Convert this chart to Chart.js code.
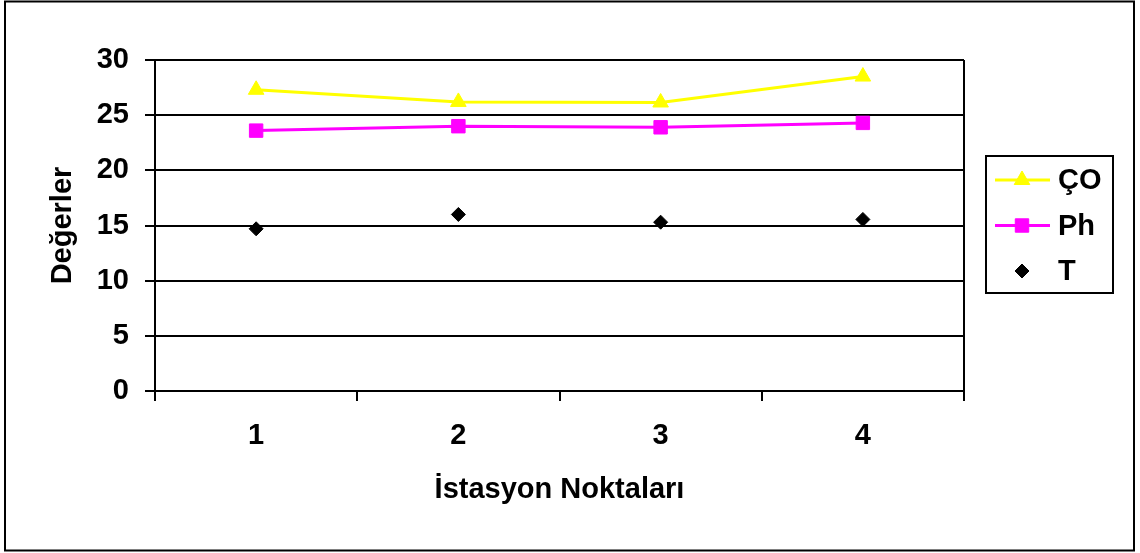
<!DOCTYPE html>
<html>
<head>
<meta charset="utf-8">
<script src="https://cdn.jsdelivr.net/npm/chart.js@4.4.1/dist/chart.umd.min.js"></script>
<style>
  html, body { margin: 0; padding: 0; background: #fff; }
  #wrap { width: 1140px; height: 553px; }
</style>
</head>
<body>
<div id="wrap"><canvas id="chart" width="1140" height="553"></canvas></div>
<script>
const stations = ["1", "2", "3", "4"];
const coValues = [27.3, 26.2, 26.15, 28.5];
const phValues = [23.6, 24.0, 23.9, 24.3];
const tValues = [14.7, 16.0, 15.3, 15.55];
const seriesNames = ["ÇO", "Ph", "T"];

const FONT = "'Liberation Sans', Arial, sans-serif";

// outer frame, plot box and the excel-style legend (line + marker)
const excelFrame = {
  id: "excelFrame",
  beforeDraw(chart) {
    const ctx = chart.ctx;
    ctx.save();
    ctx.fillStyle = "#fff";
    ctx.fillRect(0, 0, chart.width, chart.height);
    ctx.strokeStyle = "#000";
    ctx.lineWidth = 2;
    ctx.strokeRect(5, 1.5, 1129, 549);
    ctx.restore();
  },
  afterDraw(chart) {
    const ctx = chart.ctx;
    const a = chart.chartArea;
    ctx.save();
    ctx.strokeStyle = "#000";
    ctx.lineWidth = 2;
    ctx.beginPath();
    ctx.moveTo(a.right, a.top);
    ctx.lineTo(a.right, a.bottom);
    ctx.stroke();

    // legend
    ctx.strokeRect(986, 156, 127, 137);
    chart.data.datasets.forEach((ds, i) => {
      const y = 180 + i * 45.5;
      if (ds.showLine !== false) {
        ctx.strokeStyle = ds.borderColor;
        ctx.lineWidth = ds.borderWidth;
        ctx.beginPath();
        ctx.moveTo(995, y);
        ctx.lineTo(1050, y);
        ctx.stroke();
      }
      ctx.fillStyle = ds.pointBackgroundColor;
      ctx.strokeStyle = ds.pointBorderColor;
      ctx.lineWidth = 1;
      Chart.helpers.drawPoint(ctx, {
        pointStyle: ds.pointStyle,
        radius: ds.pointRadius,
        borderWidth: 1,
        rotation: 0
      }, 1022, y);
      ctx.fillStyle = "#000";
      ctx.font = "bold 29px " + FONT;
      ctx.textBaseline = "middle";
      ctx.textAlign = "left";
      ctx.fillText(ds.label, 1058, y + 1);
    });
    ctx.restore();
  }
};

function renderChart() {
  const ctx = document.getElementById("chart").getContext("2d");

  new Chart(ctx, {
    type: "line",
    data: {
      labels: stations,
      datasets: [
        {
          label: seriesNames[0],
          data: coValues,
          borderColor: "#FFFF00",
          borderWidth: 3,
          pointStyle: "triangle",
          pointRadius: 9,
          pointBackgroundColor: "#FFFF00",
          pointBorderColor: "#FFFF00",
          pointBorderWidth: 1
        },
        {
          label: seriesNames[1],
          data: phValues,
          borderColor: "#FF00FF",
          borderWidth: 3,
          pointStyle: "rect",
          pointRadius: 9.5,
          pointBackgroundColor: "#FF00FF",
          pointBorderColor: "#FF00FF",
          pointBorderWidth: 1
        },
        {
          label: seriesNames[2],
          data: tValues,
          showLine: false,
          borderColor: "#000",
          borderWidth: 0,
          pointStyle: "rectRot",
          pointRadius: 7,
          pointBackgroundColor: "#000",
          pointBorderColor: "#000",
          pointBorderWidth: 1
        }
      ]
    },
    options: {
      responsive: false,
      animation: false,
      layout: { padding: { left: 0, top: 60, right: 176, bottom: 0 } },
      plugins: {
        legend: { display: false },
        tooltip: { enabled: false }
      },
      scales: {
        x: {
          offset: true,
          grid: {
            offset: true,
            drawOnChartArea: false,
            color: "#000",
            lineWidth: 2,
            tickLength: 10
          },
          border: { color: "#000", width: 2 },
          ticks: {
            color: "#000",
            padding: 18,
            font: { family: FONT, size: 29, weight: "bold" }
          },
          title: {
            display: true,
            text: "İstasyon Noktaları",
            color: "#000",
            padding: { top: 0, bottom: 46 },
            font: { family: FONT, size: 29, weight: "bold" }
          },
          afterFit(scale) { scale.height = 162; }
        },
        y: {
          min: 0,
          max: 30,
          grid: { color: "#000", lineWidth: 2, tickLength: 10 },
          border: { color: "#000", width: 2 },
          ticks: {
            stepSize: 5,
            color: "#000",
            padding: 16,
            font: { family: FONT, size: 29, weight: "bold" }
          },
          title: {
            display: true,
            text: "Değerler",
            color: "#000",
            padding: { top: 46, bottom: 0 },
            font: { family: FONT, size: 29, weight: "bold" }
          },
          afterFit(scale) { scale.width = 155; }
        }
      }
    },
    plugins: [excelFrame]
  });
}

document.addEventListener("DOMContentLoaded", renderChart);
</script>
</body>
</html>
